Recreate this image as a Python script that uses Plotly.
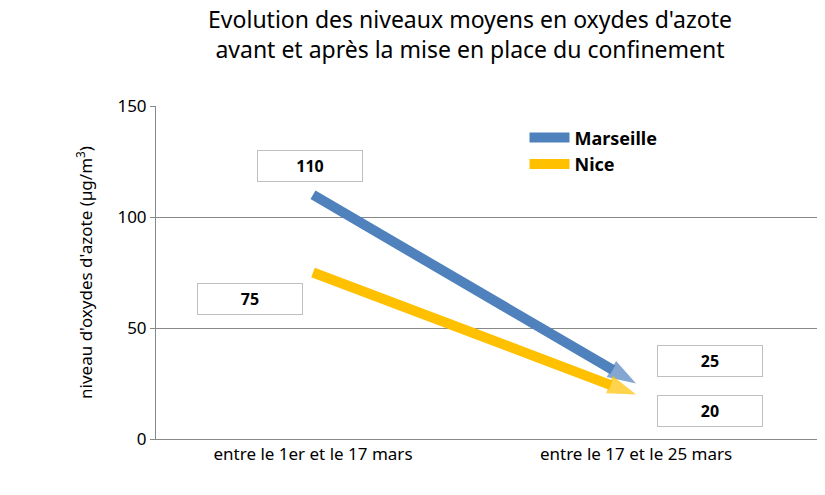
import plotly.graph_objects as go

periodes = ["entre le 1er et le 17 mars", "entre le 17 et le 25 mars"]
marseille = [110, 25]
nice = [75, 20]

bleu = "#4f81bd"
jaune = "#ffc000"

fig = go.Figure()
x = [0, 1]
for nom, vals, coul in [("Marseille", marseille, bleu), ("Nice", nice, jaune)]:
    fig.add_trace(go.Scatter(
        x=x, y=vals, name=nom, mode="lines+markers", showlegend=False,
        line=dict(color=coul, width=10),
        marker=dict(symbol=["circle", "arrow"], size=[0, 30], angleref="previous",
                    color=coul, line=dict(width=0)),
    ))
    # trace fantome pour la legende
    fig.add_trace(go.Scatter(x=[None], y=[None], name=nom, mode="lines",
                             line=dict(color=coul, width=10)))

# etiquettes de valeur dans des cadres
positions = [(-0.01, 123), (1.23, 35), (-0.195, 63), (1.23, 12.5)]
valeurs = marseille + nice
for (px, py), v in zip(positions, valeurs):
    fig.add_annotation(x=px, y=py, text="<b>%d</b>" % v, showarrow=False,
                       width=102, height=28, bordercolor="#bfbfbf", borderwidth=1,
                       bgcolor="white", font=dict(size=16, color="black"))

fig.update_layout(
    width=825, height=495,
    margin=dict(l=148, r=7, t=98, b=64),
    paper_bgcolor="white", plot_bgcolor="white",
    font=dict(family="Noto Sans, sans-serif", color="black"),
    title=dict(text="Evolution des niveaux moyens en oxydes d'azote<br>avant et après la mise en place du confinement",
               x=0.56, xanchor="center", y=0.96, yanchor="top", font=dict(size=23, color="black")),
    legend=dict(x=0.55, y=0.96, xanchor="left", yanchor="top", bgcolor="rgba(0,0,0,0)",
                font=dict(size=18, color="black", weight="bold"), itemwidth=40),
)
fig.update_xaxes(range=[-0.486, 1.588], tickvals=x, ticktext=periodes, showgrid=False,
                 zeroline=False, showline=True, linecolor="#888", tickfont=dict(size=17, color="black"),
                 automargin=False)
fig.update_yaxes(range=[0, 150], dtick=50, showgrid=True, gridcolor="#888", zeroline=False,
                 showline=True, linecolor="#888", ticks="outside", ticklen=5, tickcolor="#888",
                 tickfont=dict(size=17, color="black"), automargin=False,
                 title=dict(text="niveau d'oxydes d'azote (µg/m<sup>3</sup>)", font=dict(size=17, color="black"), standoff=20))

fig.write_html("out.html")
